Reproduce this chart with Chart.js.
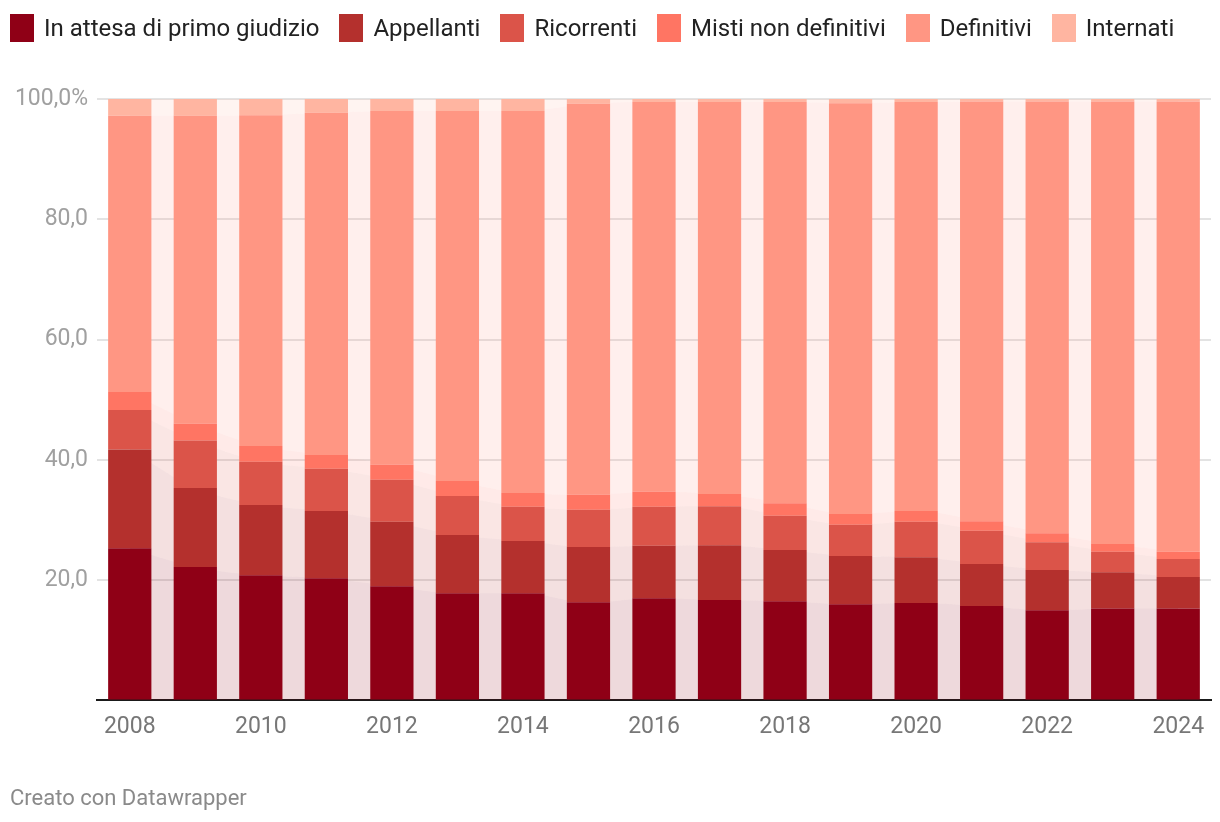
<!DOCTYPE html>
<html>
<head>
<meta charset="utf-8">
<script src="https://cdn.jsdelivr.net/npm/chart.js@4/dist/chart.umd.min.js"></script>
<style>
  html, body { margin: 0; padding: 0; background: #fff; }
  #wrap { position: relative; width: 1220px; height: 822px; }
  #legend { position: absolute; left: 10px; top: 14px; display: flex; font: 24px Roboto, sans-serif; color: #222; }
  .item { display: flex; align-items: center; margin-right: 20px; height: 28px; }
  .sw { width: 24px; height: 28px; margin-right: 10px; }
  #credit { position: absolute; left: 10px; top: 785px; font: 22px Roboto, sans-serif; color: #8a8a8a; }
</style>
</head>
<body>
<div id="wrap">
  <div id="legend"></div>
  <canvas id="chart"></canvas>
  <div id="credit">Creato con Datawrapper</div>
</div>
<script>
const years = ['2008','2009','2010','2011','2012','2013','2014','2015','2016','2017','2018','2019','2020','2021','2022','2023','2024'];

// quote percentuali per anno
const inAttesa   = [25.3, 22.2, 20.8, 20.3, 19.0, 17.8, 17.8, 16.3, 17.0, 16.7, 16.5, 16.0, 16.2, 15.7, 15.0, 15.3, 15.3];
const appellanti = [16.4, 13.1, 11.7, 11.2, 10.7,  9.7,  8.7,  9.2,  8.7,  9.1,  8.5,  8.0,  7.6,  7.0,  6.7,  6.0,  5.2];
const ricorrenti = [ 6.6,  7.9,  7.2,  7.0,  7.0,  6.5,  5.7,  6.2,  6.5,  6.5,  5.7,  5.2,  5.9,  5.5,  4.6,  3.4,  3.0];
const misti      = [ 3.0,  2.8,  2.6,  2.3,  2.5,  2.5,  2.3,  2.5,  2.5,  2.0,  2.1,  1.8,  1.8,  1.6,  1.5,  1.3,  1.2];
const definitivi = [45.9, 51.2, 55.0, 56.9, 58.8, 61.5, 63.5, 65.0, 64.8, 65.2, 66.7, 68.3, 68.0, 69.8, 71.8, 73.6, 74.9];
const internati  = [ 2.8,  2.8,  2.7,  2.3,  2.0,  2.0,  2.0,  0.8,  0.5,  0.5,  0.5,  0.7,  0.5,  0.4,  0.4,  0.4,  0.4];

const yTicks = [0, 20, 40, 60, 80, 100];

const series = [
  { label: 'In attesa di primo giudizio', data: inAttesa,   color: [143, 0, 22] },
  { label: 'Appellanti',                  data: appellanti, color: [180, 48, 45] },
  { label: 'Ricorrenti',                  data: ricorrenti, color: [219, 84, 73] },
  { label: 'Misti non definitivi',        data: misti,      color: [255, 117, 99] },
  { label: 'Definitivi',                  data: definitivi, color: [255, 150, 131] },
  { label: 'Internati',                   data: internati,  color: [255, 181, 161] }
];

const rgba = (c, a) => `rgba(${c[0]},${c[1]},${c[2]},${a})`;

// legenda in html, allineata a sinistra come nell'originale
const legend = document.getElementById('legend');
series.forEach(s => {
  const it = document.createElement('div');
  it.className = 'item';
  it.innerHTML = `<span class="sw" style="background:${rgba(s.color, 1)}"></span>${s.label}`;
  legend.appendChild(it);
});

const barSets = series.map(s => ({
  type: 'bar',
  label: s.label,
  data: s.data,
  backgroundColor: rgba(s.color, 1),
  stack: 'bars',
  order: 0,
  categoryPercentage: 1,
  barPercentage: 0.66
}));

// connettori tra le barre (aree tenui)
const connSets = series.map((s, i) => ({
  type: 'line',
  label: s.label + ' (area)',
  data: s.data,
  backgroundColor: rgba(s.color, 0.15),
  borderWidth: 0,
  pointRadius: 0,
  fill: i === 0 ? 'origin' : '-1',
  cubicInterpolationMode: 'monotone',
  stack: 'conn',
  order: 1
}));

Chart.defaults.font.family = 'Roboto, sans-serif';

new Chart(document.getElementById('chart'), {
  data: { labels: years, datasets: [...barSets, ...connSets] },
  options: {
    responsive: true,
    maintainAspectRatio: false,
    animation: false,
    layout: { padding: { left: 10, right: 9, top: 99, bottom: 68 } },
    plugins: {
      tooltip: { enabled: false },
      legend: { display: false }
    },
    scales: {
      x: {
        stacked: true,
        grid: { display: false, drawTicks: false },
        border: { display: true, color: '#1a1a1a', width: 2 },
        ticks: {
          autoSkip: false,
          maxRotation: 0,
          padding: 13,
          color: '#777',
          font: { size: 23 },
          callback: (v, i) => (i % 2 === 0 ? years[i] : '')
        }
      },
      y: {
        stacked: true,
        min: 0,
        max: 100,
        afterBuildTicks: axis => { axis.ticks = yTicks.map(v => ({ value: v })); },
        afterFit: axis => { axis.width = 87; },
        grid: { color: '#e3e3e3', lineWidth: 2, drawTicks: false },
        border: { display: false },
        ticks: {
          padding: 9,
          color: '#a0a0a0',
          font: { size: 23 },
          callback: v => v === 0 ? '' : (v === 100 ? '100,0%' : v.toFixed(1).replace('.', ','))
        }
      }
    }
  }
});
</script>
</body>
</html>
